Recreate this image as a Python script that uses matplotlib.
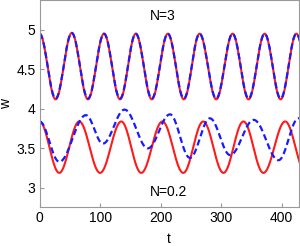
import numpy as np
import matplotlib
matplotlib.use("Agg")
import matplotlib.pyplot as plt

plt.rcParams['font.family'] = ['Liberation Sans', 'DejaVu Sans']
plt.rcParams['lines.scale_dashes'] = False

# extrema (t, w); curves pass through them
t_hi = [0, 26.5, 53.2, 80, 106.5, 133, 159, 185.5, 212, 238.5, 264.5, 292,
        319, 345.5, 372, 398.5, 424.5, 451]
w_hi_red = [4.95, 4.12, 4.96, 4.12, 4.95, 4.12, 4.95, 4.12, 4.95, 4.12, 4.95,
            4.12, 4.95, 4.12, 4.95, 4.12, 4.95, 4.12]
w_hi_blue = [4.95, 4.13, 4.96, 4.13, 4.95, 4.13, 4.95, 4.13, 4.95, 4.13, 4.95,
             4.13, 4.95, 4.13, 4.95, 4.13, 4.95, 4.13]

t_lo_red = [0, 32.5, 65.5, 100, 135, 168, 203, 237.5, 270.5, 304, 337, 370,
            406, 440]
w_lo_red = [3.84, 3.19, 3.84, 3.19, 3.84, 3.19, 3.84, 3.19, 3.84, 3.19, 3.84,
            3.19, 3.84, 3.19]

t_lo_blue = [0, 32.5, 76.5, 104.7, 140.5, 179, 215.5, 248.5, 281.5, 315, 354,
             395, 428, 460]
w_lo_blue = [3.84, 3.33, 3.92, 3.56, 3.99, 3.50, 3.93, 3.38, 3.88, 3.415, 3.86,
             3.35, 3.88, 3.40]


def smooth(ts, ws, n=40):
    # half-cosine between neighbouring extrema
    xs, ys = [], []
    for i in range(len(ts) - 1):
        s = np.linspace(0, 1, n)
        xs.append(ts[i] + (ts[i + 1] - ts[i]) * s)
        ys.append(ws[i] + (ws[i + 1] - ws[i]) * (1 - np.cos(np.pi * s)) / 2)
    return np.concatenate(xs), np.concatenate(ys)


fig = plt.figure(figsize=(3.0, 2.46), dpi=100)
ax = fig.add_axes([0.132, 0.159, 0.863, 0.839])

for ts, ws in [(t_hi, w_hi_red), (t_lo_red, w_lo_red)]:
    x, y = smooth(ts, ws)
    ax.plot(x, y, color="#ff1a1a", lw=1.5, solid_capstyle="butt")
for ts, ws in [(t_hi, w_hi_blue), (t_lo_blue, w_lo_blue)]:
    x, y = smooth(ts, ws)
    ax.plot(x, y, color="#1a1aff", lw=1.6, dashes=(4.5, 2.5))

ax.set_xlim(0, 428)
ax.set_ylim(2.76, 5.37)
ax.set_xticks([0, 100, 200, 300, 400])
ax.set_yticks([3, 3.5, 4, 4.5, 5])
ax.set_yticklabels(["3", "3.5", "4", "4.5", "5"])
ax.tick_params(direction="in", length=3, color="#999999", labelsize=10, pad=3)
for sp in ax.spines.values():
    sp.set_color("#999999")
    sp.set_linewidth(0.8)

ax.set_xlabel("t", fontsize=10, labelpad=5)
ax.set_ylabel("w", fontsize=10, labelpad=2)
ax.text(203, 5.18, "N=3", fontsize=10, ha="center", va="center")
ax.text(213, 2.95, "N=0.2", fontsize=10, ha="center", va="center")

fig.savefig("out.png", dpi=100)
